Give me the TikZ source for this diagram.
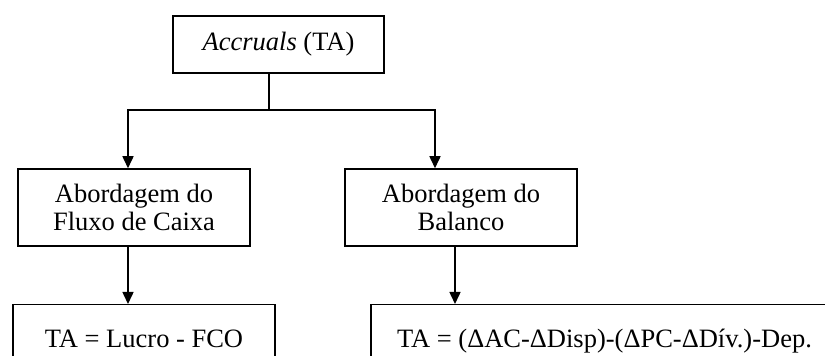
\documentclass[tikz,border=0pt]{standalone}
\usepackage{fontspec}
\setmainfont{Liberation Serif}
\usetikzlibrary{arrows.meta}
\begin{document}
\begin{tikzpicture}[x=1pt,y=1pt,
  box/.style={draw, line width=1.5pt, inner sep=0pt, align=center,
    font=\fontsize{26.5}{28}\selectfont},
  arr/.style={line width=1.5pt, -{Triangle[width=11pt,length=12pt]}},
  link/.style={line width=1.5pt}]
\useasboundingbox (0,0) rectangle (825,356);
\clip (0,0) rectangle (825,356);
% root
\node[box, minimum width=211pt, minimum height=57pt] (ta) at (278.5,311.5) {\textit{Accruals} (TA)};
% the two approaches
\node[box, minimum width=232pt, minimum height=77pt] (fc) at (134,148.5) {Abordagem do\\Fluxo de Caixa};
\node[box, minimum width=232pt, minimum height=77pt] (bal) at (461,148.5) {Abordagem do\\Balanco};
% formulas (boxes run past the lower edge)
\node[box, anchor=north, minimum width=262pt, text height=18pt, text depth=6pt, inner ysep=25pt] (f1) at (144,52) {TA = Lucro - FCO};
\node[box, anchor=north, minimum width=467pt, text height=18pt, text depth=6pt, inner ysep=25pt] (f2) at (604.5,52) {TA = (ΔAC-ΔDisp)-(ΔPC-ΔDív.)-Dep.};
% connectors
\coordinate (split) at (269,246);
\draw[link] (split |- ta.south) -- (split);
\draw[arr] (split) -| ([xshift=-6pt]fc.north);
\draw[arr] (split) -| ([xshift=-26pt]bal.north);
\draw[arr] ([xshift=-6pt]fc.south) -- ([xshift=-16pt]f1.north);
\draw[arr] ([xshift=-6pt]bal.south) -- ([xshift=-149.5pt]f2.north);
\end{tikzpicture}
\end{document}
